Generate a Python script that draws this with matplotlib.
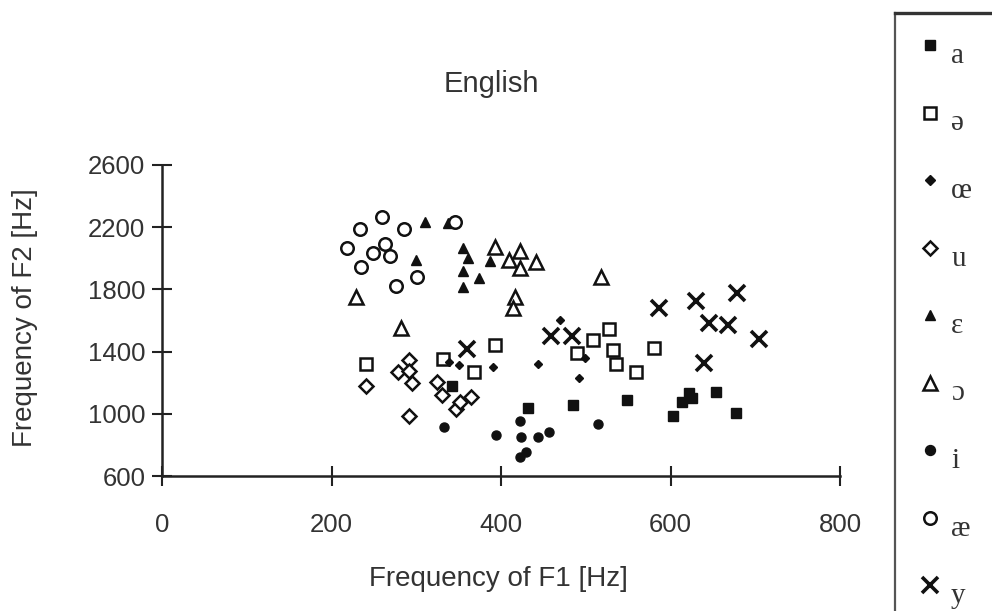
import matplotlib
matplotlib.use("Agg")
import matplotlib.pyplot as plt

# F1 / F2 values (Hz) per vowel
a_f1 = [342, 432, 485, 549, 603, 613, 622, 625, 654, 677]
a_f2 = [1179, 1039, 1057, 1089, 988, 1074, 1132, 1100, 1142, 1003]

schwa_f1 = [241, 332, 368, 393, 490, 508, 527, 532, 536, 559, 580]
schwa_f2 = [1318, 1350, 1267, 1442, 1389, 1475, 1545, 1410, 1320, 1267, 1421]

oe_f1 = [339, 350, 390, 444, 470, 492, 499]
oe_f2 = [1335, 1314, 1299, 1318, 1603, 1228, 1357]

u_f1 = [241, 278, 291, 291, 292, 295, 325, 330, 347, 352, 365]
u_f2 = [1179, 1267, 1346, 988, 1277, 1196, 1203, 1121, 1031, 1078, 1110]

eps_f1 = [300, 310, 338, 355, 361, 355, 374, 355, 387]
eps_f2 = [1989, 2231, 2228, 2064, 2000, 1920, 1871, 1813, 1983]

oo_f1 = [229, 282, 393, 409, 422, 422, 441, 416, 414, 518]
oo_f2 = [1749, 1550, 2075, 1989, 2047, 1936, 1978, 1753, 1678, 1882]

i_f1 = [333, 394, 422, 424, 422, 429, 444, 457, 514]
i_f2 = [917, 864, 954, 853, 724, 756, 849, 880, 934]

ae_f1 = [218, 234, 235, 249, 259, 263, 269, 276, 285, 301, 346]
ae_f2 = [2064, 2188, 1946, 2032, 2264, 2090, 2015, 1824, 2188, 1878, 2235]

y_f1 = [360, 459, 484, 586, 630, 678, 645, 668, 704, 640]
y_f2 = [1415, 1500, 1500, 1678, 1727, 1779, 1582, 1571, 1479, 1325]

vowel_labels = ["a", "ə", "œ", "u", "ε", "ɔ", "i", "æ", "y"]
x_ticks = [0, 200, 400, 600, 800]
y_ticks = [600, 1000, 1400, 1800, 2200, 2600]

ink = "#111111"
txt = "#333333"

# marker style per vowel: (marker, size, filled, edge width)
styles = [
    ("s", 6.5, True, 0),
    ("s", 8.5, False, 1.8),
    ("D", 4.2, True, 0),
    ("D", 7, False, 1.8),
    ("^", 6.5, True, 0),
    ("^", 10, False, 1.8),
    ("o", 6.5, True, 0),
    ("o", 9, False, 1.8),
    ("x", 11, False, 2.6),
]
series = [
    (a_f1, a_f2), (schwa_f1, schwa_f2), (oe_f1, oe_f2), (u_f1, u_f2),
    (eps_f1, eps_f2), (oo_f1, oo_f2), (i_f1, i_f2), (ae_f1, ae_f2),
    (y_f1, y_f2),
]

plt.rcParams["font.family"] = ["Liberation Sans", "DejaVu Sans"]

fig = plt.figure(figsize=(9.92, 6.11), dpi=100)
ax = fig.add_axes([162 / 992, 1 - 476 / 611, 678 / 992, 311 / 611])

for (f1, f2), (m, ms, filled, mew) in zip(series, styles):
    if m == "x":
        ax.plot(f1, f2, ls="none", marker=m, ms=ms, mew=mew, color=ink)
    elif filled:
        ax.plot(f1, f2, ls="none", marker=m, ms=ms, color=ink, mec=ink)
    else:
        ax.plot(f1, f2, ls="none", marker=m, ms=ms, mfc="white", mec=ink, mew=mew)

ax.set_xlim(0, 800)
ax.set_ylim(600, 2600)
ax.set_xticks(x_ticks)
ax.set_yticks(y_ticks)
ax.spines["top"].set_visible(False)
ax.spines["right"].set_visible(False)
for s in ["left", "bottom"]:
    ax.spines[s].set_linewidth(1.8)
    ax.spines[s].set_color("#222222")
ax.tick_params(axis="both", direction="inout", length=14, width=1.5,
               color="#222222", labelsize=18.5, labelcolor=txt)
ax.tick_params(axis="x", pad=20)
ax.tick_params(axis="y", pad=5)
for line in ax.lines:
    line.set_clip_on(False)

fig.text(491 / 992, 1 - 84 / 611, "English", ha="center", va="center",
         fontsize=21, color=txt)
fig.text(498 / 992, 1 - 579 / 611, "Frequency of F1 [Hz]", ha="center",
         va="center", fontsize=20, color=txt)
fig.text(25 / 992, 1 - 318 / 611, "Frequency of F2 [Hz]", ha="center",
         va="center", rotation=90, fontsize=20, color=txt)

# legend panel on the right, cut off by the figure edge
lax = fig.add_axes([895 / 992, 0, 0.2, 1 - 13 / 611])
lax.set_xlim(0, 198)
lax.set_ylim(598, 0)
lax.set_xticks([])
lax.set_yticks([])
lax.patch.set_alpha(0)
lax.spines["right"].set_visible(False)
lax.spines["bottom"].set_visible(False)
lax.spines["left"].set_linewidth(1.6)
lax.spines["left"].set_color("#555555")
lax.spines["top"].set_linewidth(2.4)
lax.spines["top"].set_color("#333333")

for k, (lab, (m, ms, filled, mew)) in enumerate(zip(vowel_labels, styles)):
    yy = 32 + k * 67.5
    if m == "x":
        lax.plot([35], [yy], marker=m, ms=ms, mew=mew, color=ink)
    elif filled:
        lax.plot([35], [yy], marker=m, ms=ms * 1.1, color=ink)
    else:
        lax.plot([35], [yy], marker=m, ms=ms, mfc="white", mec=ink, mew=mew)
    lax.text(56, yy + 11, lab, ha="left", va="center", fontsize=21,
             family=["Liberation Serif", "DejaVu Serif"], color=txt)

fig.savefig("out.png", dpi=100)
